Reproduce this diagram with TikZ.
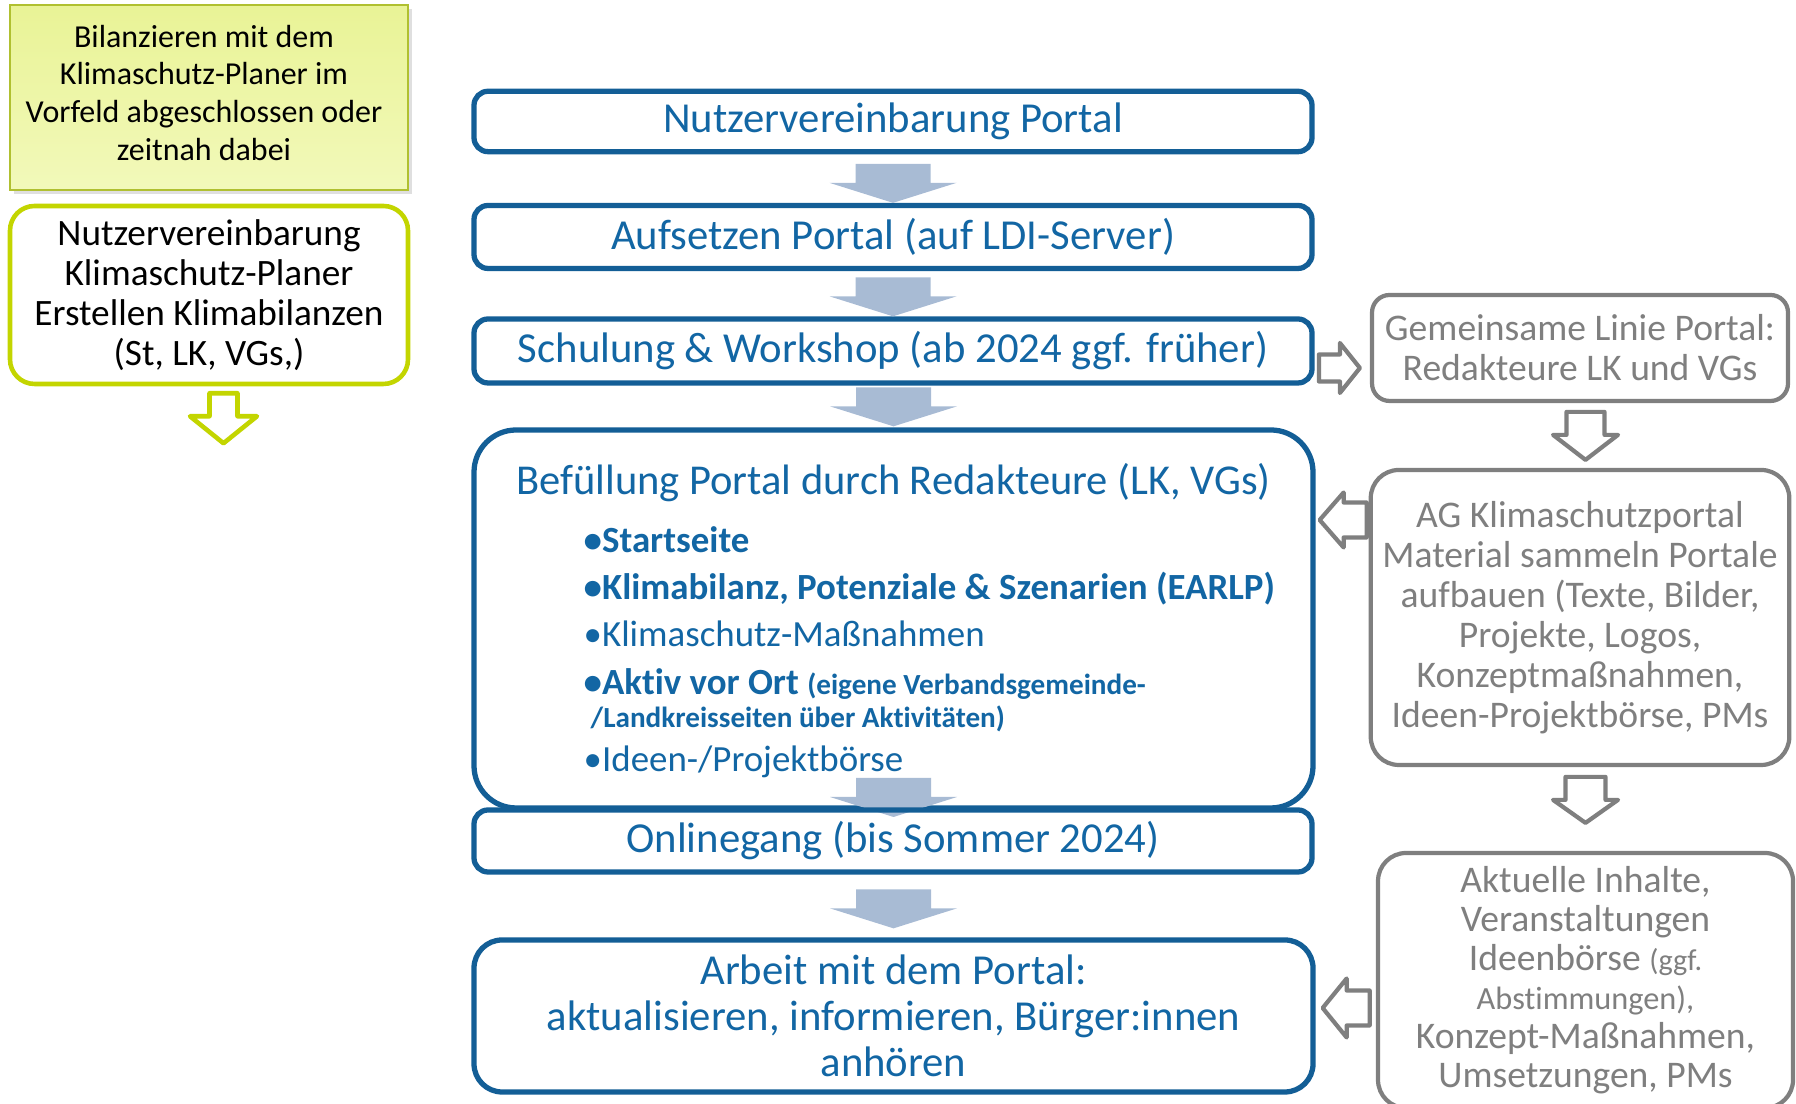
\documentclass[tikz,border=0pt]{standalone}
\usepackage{fontspec}
\setmainfont[Ligatures=NoCommon]{Carlito}
\usepackage{tikz}
\usetikzlibrary{calc,shadows}
\definecolor{kpblue}{HTML}{1266A4}
\definecolor{kpframe}{HTML}{135E96}
\definecolor{kpflow}{HTML}{A8BBD4}
\definecolor{kpgray}{HTML}{7F7F7F}
\definecolor{kplime}{HTML}{C3D500}
\definecolor{kpolive}{HTML}{B0C030}
\definecolor{kpleaftop}{HTML}{E9F396}
\definecolor{kpleafbot}{HTML}{F2F9BA}

\tikzset{
  stage/.style={draw=kpframe, line width=1.5pt, rounded corners=4pt, fill=white, text=kpblue,
    minimum width=8.38cm, align=center, font=\fontsize{12.15}{13.5}\selectfont},
  side/.style={draw=kpgray, line width=1.2pt, rounded corners=5pt, fill=white, text=kpgray,
    minimum width=4.16cm, align=center, font=\fontsize{10.7}{11.4}\selectfont},
  item/.style={anchor=base west, text=kpblue, inner sep=0pt},
  flow/.style={fill=kpflow},
  hollow/.style={draw=kpgray, fill=white, line width=1.2pt, line join=round},
  pics/blockarrow/.style args={#1/#2/#3/#4}{code={
    \path[pic actions] (-#4,#1) -- (-#4,#2) -- (-#3,#2) -- (0,0) -- (#3,#2) -- (#4,#2) -- (#4,#1) -- cycle;
  }},
}

\begin{document}
\begin{tikzpicture}[x=1cm,y=1cm]
  \useasboundingbox (0,0) rectangle (17.96,11.04);
  \clip (0,0) rectangle (17.96,11.04);

  % left column
  \node[draw=kpolive, line width=0.8pt, top color=kpleaftop, bottom color=kpleafbot,
    drop shadow={shadow xshift=0.04cm, shadow yshift=-0.04cm, opacity=0.25},
    minimum width=3.98cm, minimum height=1.85cm] (bilanz) at (2.09,10.065) {};
  \node[align=center, font=\fontsize{9.1}{10.8}\selectfont] (bilanztext) at (2.04,10.11)
    {Bilanzieren mit dem\\Klimaschutz-Planer im\\Vorfeld abgeschlossen oder\\zeitnah dabei};
  \node[draw=kplime, line width=1.3pt, rounded corners=7pt, minimum width=3.98cm, minimum height=1.78cm,
    align=center, font=\fontsize{10.6}{11.4}\selectfont] (klima) at (2.09,8.09)
    {Nutzervereinbarung\\Klimaschutz-Planer\\Erstellen Klimabilanzen\\(St, LK, VGs,)};
  \pic[draw=kplime, fill=white, line width=1.3pt, line join=round] at ($(klima.south)+(0.145,-0.57)$)
    {blockarrow=0.50/0.27/0.335/0.14};

  % middle column
  \node[stage, minimum height=0.56cm] (nutzer) at (8.93,9.825) {Nutzervereinbarung Portal};
  \node[stage, minimum height=0.63cm] (aufsetzen) at (8.93,8.67) {Aufsetzen Portal (auf LDI-Server)};
  \node[stage, minimum height=0.64cm] (schulung) at (8.93,7.53) {Schulung \& Workshop (ab 2024 ggf. früher)};
  \pic[flow] at (aufsetzen.north) {blockarrow=0.39/0.20/0.635/0.375};
  \pic[flow] at (schulung.north) {blockarrow=0.39/0.20/0.635/0.375};

  \node[stage, rounded corners=12pt, minimum width=8.39cm, minimum height=3.78cm] (befuellung) at (8.935,4.85) {};
  \pic[flow] at ($(befuellung.north)+(0,0.01)$) {blockarrow=0.39/0.20/0.635/0.375};
  \node[anchor=base, text=kpblue, font=\fontsize{12.1}{13}\selectfont] (titel) at (8.935,6.09)
    {Befüllung Portal durch Redakteure (LK, VGs)};
  \node[item, font=\fontsize{10.5}{12}\selectfont\bfseries] (b1) at (5.83,5.51) {•Startseite};
  \node[item, font=\fontsize{10.5}{12}\selectfont\bfseries] (b2) at (5.83,5.04) {•Klimabilanz, Potenziale \& Szenarien (EARLP)};
  \node[item, font=\fontsize{10.5}{12}\selectfont] (b3) at (5.83,4.57) {•Klimaschutz-Maßnahmen};
  \node[item, font=\fontsize{10.5}{12}\selectfont\bfseries] (b4) at (5.83,4.09)
    {•Aktiv vor Ort {\fontsize{8.3}{9}\selectfont (eigene Verbandsgemeinde-}};
  \node[item, font=\fontsize{8.3}{9}\selectfont\bfseries] (b4b) at (5.90,3.76) {/Landkreisseiten über Aktivitäten)};
  \node[item, font=\fontsize{10.5}{12}\selectfont] (b5) at (5.83,3.32) {•Ideen-/Projektbörse};

  \pic[flow] at (8.935,2.87) {blockarrow=0.39/0.20/0.635/0.375};
  \node[stage, minimum height=0.62cm, fill=none] (online) at (8.93,2.63) {Onlinegang (bis Sommer 2024)};
  \node[stage, rounded corners=8pt, minimum height=1.52cm, minimum width=8.39cm,
    font=\fontsize{12.15}{13}\selectfont] (arbeit) at (8.935,0.88)
    {Arbeit mit dem Portal:\\aktualisieren, informieren, Bürger:innen\\anhören};
  \pic[flow] at ($(arbeit.north)+(0,0.09)$) {blockarrow=0.39/0.20/0.635/0.375};

  % right column
  \node[side, minimum height=1.06cm] (gemeinsam) at (15.80,7.56)
    {Gemeinsame Linie Portal:\\Redakteure LK und VGs};
  \node[side, rounded corners=8pt, minimum height=2.95cm] (agbox) at (15.80,4.865)
    {AG Klimaschutzportal\\Material sammeln Portale\\aufbauen (Texte, Bilder,\\Projekte, Logos,\\Konzeptmaßnahmen,\\Ideen-Projektbörse, PMs};
  \node[side, rounded corners=8pt, minimum width=4.15cm, minimum height=2.55cm,
    font=\fontsize{10.7}{11.1}\selectfont] (aktuell) at (15.855,1.235)
    {Aktuelle Inhalte,\\Veranstaltungen\\Ideenbörse {\fontsize{8.6}{9}\selectfont(ggf.}\\{\fontsize{9.2}{9}\selectfont Abstimmungen),}\\Konzept-Maßnahmen,\\Umsetzungen, PMs};

  \pic[hollow, rotate=90] at ($(gemeinsam.west)+(-0.1,-0.2)$) {blockarrow=0.41/0.20/0.25/0.135};
  \pic[hollow] at ($(agbox.north)+(0.055,0.08)$) {blockarrow=0.48/0.25/0.325/0.19};
  \pic[hollow, rotate=-90] at ($(befuellung.east)+(0.04,0.99)$) {blockarrow=0.47/0.24/0.275/0.175};
  \pic[hollow] at ($(aktuell.north)+(0,0.28)$) {blockarrow=0.46/0.23/0.325/0.20};
  \pic[hollow, rotate=-90] at ($(arbeit.east)+(0.07,0.08)$) {blockarrow=0.47/0.24/0.295/0.175};
\end{tikzpicture}
\end{document}
